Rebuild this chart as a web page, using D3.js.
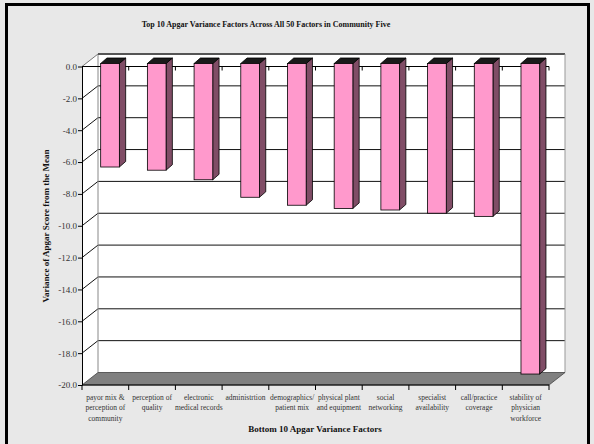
<!DOCTYPE html>
<html><head><meta charset="utf-8">
<script src="https://cdn.jsdelivr.net/npm/d3@7"></script>
<style>html,body{margin:0;padding:0;background:#fff}svg{display:block}</style>
</head><body>
<svg id="c" width="594" height="444"></svg>
<script>
const categories = [
  ["payor mix &","perception of","community"],
  ["perception of","quality"],
  ["electronic","medical records"],
  ["administrtion"],
  ["demographics/","patient mix"],
  ["physical plant","and equipment"],
  ["social","networking"],
  ["specialist","availability"],
  ["call/practice","coverage"],
  ["stability of","physician","workforce"]
];
const values = [-6.5, -6.7, -7.3, -8.4, -8.9, -9.1, -9.2, -9.4, -9.6, -19.5];
const yTicks = [0, -2, -4, -6, -8, -10, -12, -14, -16, -18, -20];
const title = "Top 10 Apgar Variance Factors Across All 50 Factors in Community Five";
const yTitle = "Variance of Apgar Score from the Mean";
const xTitle = "Bottom 10 Apgar Variance Factors";

const svg = d3.select("#c");
const serif = "'Liberation Serif','Times New Roman',serif";
const L = 82, R = 549, T = 66.5, B = 385;
const DX = 16, DY = -12.5;
const idx = categories.map((d,i)=>i);
const x = d3.scaleBand().domain(idx).range([L, R]).padding(0);
const y = d3.scaleLinear().domain([-20, 0]).range([B, T]);
const bw = x.bandwidth();

svg.append("rect").attr("width",594).attr("height",444).attr("fill","#e8e8e8");
svg.append("rect").attr("x",6.5).attr("y",4.5).attr("width",582).attr("height",450)
  .attr("fill","none").attr("stroke","#000").attr("stroke-width",3);

svg.append("text").attr("x",266).attr("y",27).attr("text-anchor","middle")
  .attr("font-family",serif).attr("font-weight","bold").attr("font-size",8).attr("fill","#111").text(title);

// back wall
svg.append("rect").attr("x",L+DX).attr("y",T+DY).attr("width",R-L).attr("height",B-T)
  .attr("fill","#fff");
// left wall
svg.append("polygon").attr("points",[[L,T],[L+DX,T+DY],[L+DX,B+DY],[L,B]].join(" "))
  .attr("fill","#fff");
// gridlines
const g = svg.append("g");
yTicks.filter(v=>v>-20).forEach(v=>{
  const yy = y(v);
  g.append("line").attr("x1",L).attr("y1",yy).attr("x2",L+DX).attr("y2",yy+DY)
    .attr("stroke", v===0 ? "#777" : "#111").attr("stroke-width",1);
  if (v!==0) g.append("line").attr("x1",L+DX).attr("y1",yy+DY).attr("x2",R+DX).attr("y2",yy+DY)
    .attr("stroke","#111").attr("stroke-width",1);
});
// wall edges
svg.append("line").attr("x1",L+DX).attr("y1",T+DY).attr("x2",L+DX).attr("y2",B+DY).attr("stroke","#888");
svg.append("line").attr("x1",L+DX).attr("y1",T+DY).attr("x2",R+DX).attr("y2",T+DY).attr("stroke","#555").attr("stroke-width",2);
svg.append("line").attr("x1",R+DX).attr("y1",T+DY).attr("x2",R+DX).attr("y2",B+DY).attr("stroke","#999");
// floor
svg.append("polygon").attr("points",[[L,B],[R,B],[R+DX,B+DY],[L+DX,B+DY]].join(" "))
  .attr("fill","#808080").attr("stroke","#444").attr("stroke-width",0.8);

// front zero line with small ticks
svg.append("line").attr("x1",L).attr("y1",y(0)).attr("x2",R).attr("y2",y(0)).attr("stroke","#000");
idx.slice(1).concat([10]).forEach(i=>{
  const xx = i<10 ? x(i) : R;
  svg.append("line").attr("x1",xx).attr("y1",y(0)).attr("x2",xx).attr("y2",y(0)+4).attr("stroke","#000");
});

// bars
const fdy = -3, sdx = 6.3, sdy = -5.5;
const bars = svg.append("g").selectAll("g").data(values).join("g");
bars.each(function(v,i){
  const s = d3.select(this);
  const x0 = x(i) + bw*0.4, x1 = x0 + bw*0.4;
  const y0 = y(0) + fdy, y1 = y(v) + fdy;
  s.append("polygon").attr("points",[[x1,y0],[x1+sdx,y0+sdy],[x1+sdx,y1+sdy],[x1,y1]].join(" "))
    .attr("fill","#804d66").attr("stroke","#000").attr("stroke-width",0.8);
  s.append("polygon").attr("points",[[x0,y0],[x0+sdx,y0+sdy],[x1+sdx,y0+sdy],[x1,y0]].join(" "))
    .attr("fill","#1a1a1a").attr("stroke","#000").attr("stroke-width",0.8);
  s.append("rect").attr("x",x0).attr("y",y0).attr("width",x1-x0).attr("height",y1-y0)
    .attr("fill","#ff99cc").attr("stroke","#000").attr("stroke-width",0.8);
});

// y axis
const ya = svg.append("g").attr("transform",`translate(${L},0)`)
  .call(d3.axisLeft(y).tickValues(yTicks).tickFormat(d3.format(".1f")).tickSize(4).tickSizeOuter(0));
ya.select(".domain").attr("stroke","#000");
ya.selectAll(".tick line").attr("stroke","#000");
ya.selectAll(".tick text").attr("font-family",serif).attr("font-size",9).attr("fill","#333")
  .attr("x",-5).attr("dy","0.32em").text(d=> d===0 ? "0.0" : d3.format(".1f")(d).replace("−","-"));

// x axis
svg.append("line").attr("x1",L).attr("y1",B).attr("x2",R).attr("y2",B).attr("stroke","#000");
idx.concat([10]).forEach(i=>{
  const xx = i<10 ? x(i) : R;
  svg.append("line").attr("x1",xx).attr("y1",B).attr("x2",xx).attr("y2",B+5).attr("stroke","#000");
});
const lab = svg.append("g").selectAll("text").data(categories).join("text")
  .attr("font-family",serif).attr("font-size",7.5).attr("fill","#333").attr("text-anchor","middle");
lab.each(function(lines,i){
  const t = d3.select(this);
  lines.forEach((ln,k)=>{
    t.append("tspan").attr("x", x(i)+bw/2).attr("y", 400 + k*10.3).text(ln);
  });
});

svg.append("text").attr("x",315).attr("y",432).attr("text-anchor","middle")
  .attr("font-family",serif).attr("font-weight","bold").attr("font-size",9).attr("fill","#111").text(xTitle);
svg.append("text").attr("transform","translate(49,226) rotate(-90)").attr("text-anchor","middle")
  .attr("font-family",serif).attr("font-weight","bold").attr("font-size",9).attr("fill","#111").text(yTitle);
</script>
</body></html>
